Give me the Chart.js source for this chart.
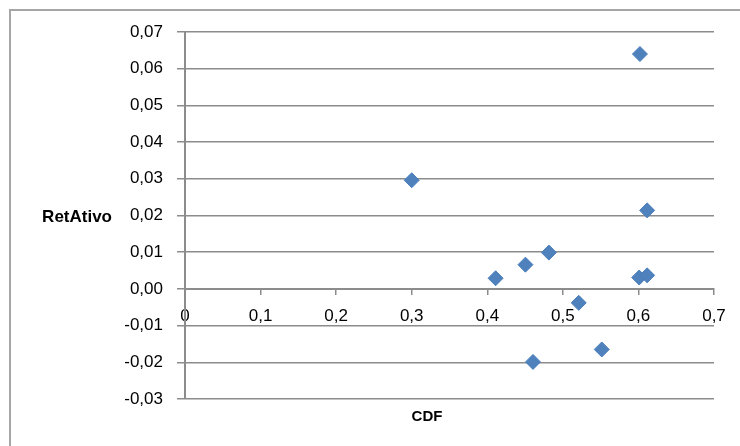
<!DOCTYPE html>
<html>
<head>
<meta charset="utf-8">
<script src="https://cdn.jsdelivr.net/npm/chart.js@4"></script>
<style>
  html, body { margin: 0; padding: 0; background: #fff; }
  #wrap { width: 740px; height: 446px; }
</style>
</head>
<body>
<div id="wrap"><canvas id="chart_scatter" width="740" height="446"></canvas></div>
<script>
// data
var cdfValues      = [0.602, 0.300, 0.6115, 0.4815, 0.4505, 0.411, 0.601, 0.6115, 0.521, 0.5515, 0.4605];
var retAtivoValues = [0.0640, 0.0296, 0.0214, 0.0099, 0.0066, 0.0029, 0.0031, 0.0037, -0.0038, -0.0165, -0.0199];

var xTitle = 'CDF';
var yTitle = 'RetAtivo';

var fontName = "'Liberation Sans', Arial, sans-serif";
var gridColor = '#8c8c8c';

var points = [];
for (var i = 0; i < cdfValues.length; i++) {
    points.push({ x: cdfValues[i], y: retAtivoValues[i] });
}

// comma decimals like the original
var fmt = function(v, digits) {
    if (Math.abs(v) < 1e-9) v = 0;
    if (digits === null) {
        return String(Math.round(v * 10) / 10).replace('.', ',');
    }
    return v.toFixed(digits).replace('.', ',');
};

// frame + axis titles (titles are horizontal, so drawn by hand)
var decorations = {
    id: 'decorations',
    beforeDraw: function(chart) {
        var ctx = chart.ctx;
        ctx.save();
        ctx.strokeStyle = '#a6a6a6';
        ctx.lineWidth = 2;
        ctx.strokeRect(10, 10, 900, 600);
        ctx.restore();
    },
    afterDraw: function(chart) {
        var ctx = chart.ctx;
        var area = chart.chartArea;
        ctx.save();
        ctx.fillStyle = '#000';
        ctx.font = "bold 17px " + fontName;
        ctx.textBaseline = 'middle';
        ctx.textAlign = 'right';
        ctx.fillText(yTitle, 112, (area.top + area.bottom) / 2 + 2);
        ctx.font = "bold 15px " + fontName;
        ctx.textAlign = 'center';
        ctx.fillText(xTitle, 427, area.bottom + 18);
        ctx.restore();
    }
};

var chartScatter = new Chart(document.getElementById('chart_scatter'), {
    type: 'scatter',
    data: {
        datasets: [{
            label: yTitle,
            data: points,
            pointStyle: 'rectRot',
            pointRadius: 7.5,
            pointHoverRadius: 7.5,
            backgroundColor: '#4F81BD',
            borderColor: '#4A7EBB',
            borderWidth: 1
        }]
    },
    options: {
        responsive: false,
        animation: false,
        layout: { padding: { top: 32, right: 26, bottom: 47, left: 0 } },
        plugins: {
            legend: { display: false },
            tooltip: { enabled: false }
        },
        scales: {
            x: {
                type: 'linear',
                position: { y: 0 },
                min: 0,
                max: 0.7,
                ticks: {
                    stepSize: 0.1,
                    color: '#000',
                    padding: 12,
                    maxRotation: 0,
                    font: { family: fontName, size: 17 },
                    callback: function(v) { return fmt(v, null); }
                },
                grid: {
                    drawOnChartArea: false,
                    drawTicks: true,
                    tickLength: 5,
                    color: gridColor,
                    lineWidth: 1.5
                },
                border: { display: true, color: gridColor, width: 2 }
            },
            y: {
                type: 'linear',
                min: -0.03,
                max: 0.07,
                afterFit: function(scale) { scale.width = 185; },
                ticks: {
                    stepSize: 0.01,
                    color: '#000',
                    padding: 14,
                    font: { family: fontName, size: 17 },
                    callback: function(v) { return fmt(v, 2); }
                },
                grid: {
                    color: gridColor,
                    lineWidth: 1.5,
                    tickLength: 8
                },
                border: { display: true, color: gridColor, width: 2 }
            }
        }
    },
    plugins: [decorations]
});
</script>
</body>
</html>
